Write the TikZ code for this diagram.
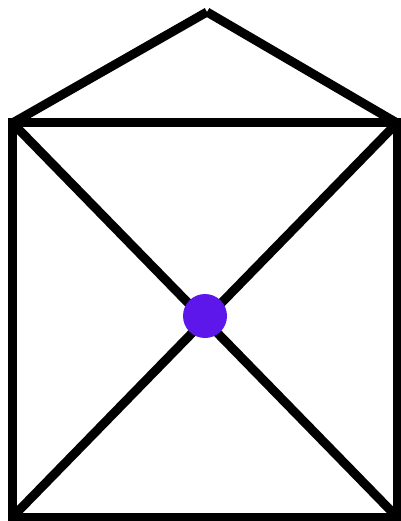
\documentclass[tikz,border=0pt]{standalone}
\definecolor{dotpurple}{HTML}{5E17EB}
\tikzset{edge/.style={line width=9pt, black}, centerdot/.style={circle, fill=dotpurple, minimum size=44pt, inner sep=0pt}}
\begin{document}
\begin{tikzpicture}[x=1pt,y=-1pt]
\useasboundingbox (0,0) rectangle (400,521);
\coordinate (tl) at (12.5,123);
\coordinate (tr) at (397,123);
\coordinate (bl) at (12.5,517);
\coordinate (br) at (397,517);
\coordinate (apex) at (207,12);
\draw[edge] (tl) -- (tr) -- (br) -- (bl) -- cycle;
\draw[edge] (tl) -- (br);
\draw[edge] (tr) -- (bl);
\draw[edge] (tl) -- (apex);
\draw[edge] (apex) -- (tr);
\node[centerdot] (c) at (205,316) {};
\end{tikzpicture}
\end{document}
